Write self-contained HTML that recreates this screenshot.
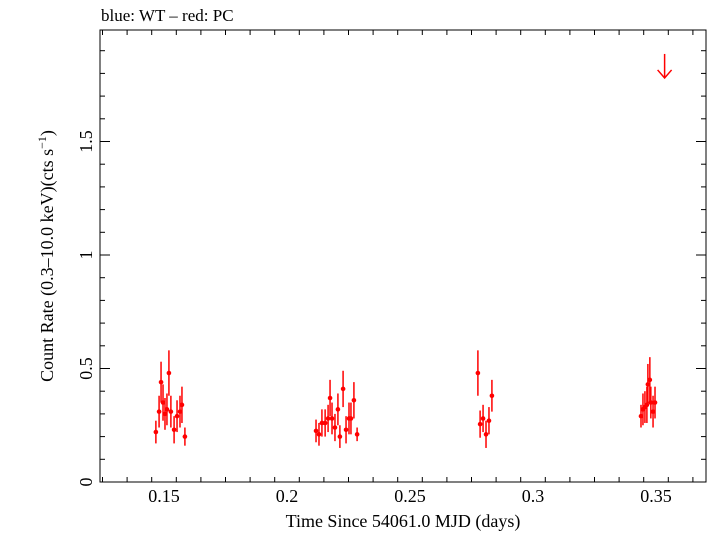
<!DOCTYPE html>
<html><head><meta charset="utf-8"><style>
body{margin:0;background:#fff}
svg text{font-family:"Liberation Serif",serif;fill:#000}
</style></head><body>
<svg id="c" width="709" height="532" xmlns="http://www.w3.org/2000/svg">
<text x="101" y="21" font-size="17">blue: WT – red: PC</text>
<rect x="100" y="30" width="606" height="452" fill="none" stroke="#000" stroke-width="1"/>
<g id="axes"></g>
<g id="pts"></g>
<text x="403" y="527" font-size="18" text-anchor="middle">Time Since 54061.0 MJD (days)</text>
<text transform="translate(53,256) rotate(-90)" font-size="18" text-anchor="middle">Count Rate (0.3–10.0 keV)(cts s<tspan font-size="12" dy="-7">−1</tspan><tspan dy="7">)</tspan></text>
</svg>
<script>
const times=[0.1467,0.148,0.1488,0.1496,0.1504,0.1512,0.152,0.1528,0.1541,0.1553,0.1565,0.1573,0.1585,
0.2118,0.213,0.2142,0.2155,0.2167,0.2175,0.2183,0.2195,0.2207,0.2215,0.2228,0.224,0.2252,0.226,0.2272,0.2285,
0.2776,0.2785,0.2797,0.2809,0.2821,0.2833,
0.3439,0.3447,0.3455,0.3463,0.3467,0.3475,0.3479,0.3488,0.3496];
const rates=[0.22,0.31,0.44,0.35,0.30,0.32,0.48,0.31,0.23,0.29,0.31,0.34,0.20,
0.225,0.21,0.26,0.26,0.28,0.37,0.28,0.24,0.32,0.20,0.41,0.23,0.28,0.28,0.36,0.21,
0.48,0.255,0.28,0.21,0.27,0.38,
0.29,0.32,0.33,0.34,0.43,0.45,0.35,0.31,0.35];
const errs=[0.05,0.07,0.09,0.08,0.07,0.07,0.1,0.07,0.06,0.07,0.07,0.08,0.04,
0.05,0.05,0.06,0.06,0.06,0.08,0.07,0.06,0.07,0.05,0.08,0.06,0.07,0.07,0.08,0.03,
0.1,0.06,0.06,0.06,0.06,0.07,
0.05,0.07,0.07,0.08,0.09,0.1,0.07,0.07,0.07];
const limitTime=[0.3535];
const limitRate=[1.78];
const xTicks=[0.15,0.2,0.25,0.3,0.35];
const xTickLabels=["0.15","0.2","0.25","0.3","0.35"];
const yTicks=[0,0.5,1,1.5];
const yTickLabels=["0","0.5","1","1.5"];
const X=t=>287+(t-0.2)*2460;
const Y=v=>482-v*227;
const NS="http://www.w3.org/2000/svg";
function mk(tag,at,par){const e=document.createElementNS(NS,tag);for(const k in at)e.setAttribute(k,at[k]);par.appendChild(e);return e;}
const ax=document.getElementById('axes');
for(let t=0.125;t<=0.37;t+=0.01){const x=X(t);const major=xTicks.some(v=>Math.abs(v-t)<1e-6);const L=major?10:5;
const l1=mk('line',{x1:x,x2:x,y1:482,y2:482-L,stroke:'#000'},ax);


const l2=mk('line',{x1:x,x2:x,y1:30,y2:30+L,stroke:'#000'},ax);

}
xTicks.forEach((t,i)=>{const e=mk('text',{x:X(t),y:502,'font-size':18,'text-anchor':'middle'},ax);e.textContent=xTickLabels[i];

});
for(let v=0;v<=1.95;v+=0.1){const y=Y(v);const major=yTicks.some(u=>Math.abs(u-v)<1e-6);const L=major?10:5;
const l1=mk('line',{x1:100,x2:100+L,y1:y,y2:y,stroke:'#000'},ax);


const l2=mk('line',{x1:706,x2:706-L,y1:y,y2:y,stroke:'#000'},ax);

}
yTicks.forEach((v,i)=>{const e=mk('text',{x:0,y:0,'font-size':18,'text-anchor':'middle',transform:`translate(92,${Y(v)}) rotate(-90)`},ax);e.textContent=yTickLabels[i];

});
const pg=document.getElementById('pts');
times.forEach((t,i)=>{const x=X(t),y=Y(rates[i]);
const g=mk('g',{},pg);


mk('line',{x1:x,x2:x,y1:Y(rates[i]+errs[i]),y2:Y(rates[i]-errs[i]),stroke:'#f00','stroke-width':1.5},g);
mk('line',{x1:x-2,x2:x+2,y1:y,y2:y,stroke:'#f00','stroke-width':1.5},g);
mk('circle',{cx:x,cy:y,r:2.3,fill:'#f00'},g);});
limitTime.forEach((t,i)=>{const x=X(t),y=Y(limitRate[i]);
const g=mk('g',{},pg);


mk('line',{x1:x,x2:x,y1:y-24,y2:y,stroke:'#f00','stroke-width':1.5},g);
mk('polyline',{points:`${x-7},${y-8} ${x},${y} ${x+7},${y-8}`,fill:'none',stroke:'#f00','stroke-width':1.5},g);});
</script>
</body></html>
